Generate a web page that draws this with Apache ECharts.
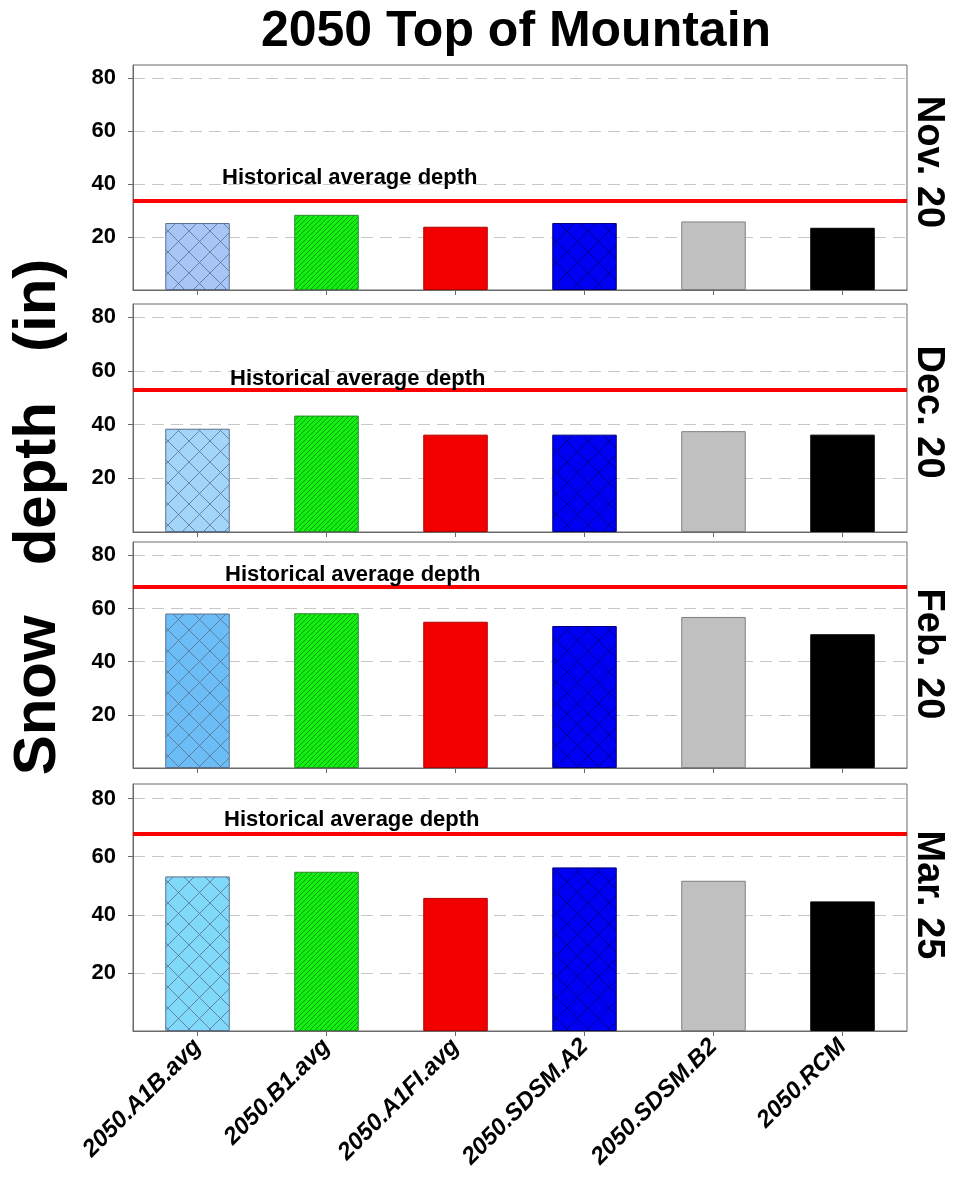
<!DOCTYPE html>
<html lang="en">
<head>
<meta charset="UTF-8">
<title>2050 Top of Mountain</title>
<style>
  html, body { margin: 0; padding: 0; background: #fff; }
  #main { width: 954px; height: 1184px; }
</style>
</head>
<body>
<div id="main"></div>
<script src="https://cdn.jsdelivr.net/npm/echarts@6/dist/echarts.min.js"></script>
<script>
// data (snow depth, inches)
const categories = ['2050.A1B.avg', '2050.B1.avg', '2050.A1FI.avg', '2050.SDSM.A2', '2050.SDSM.B2', '2050.RCM'];
const nov20 = [25.3, 28.4, 23.9, 25.3, 25.9, 23.5];
const dec20 = [38.5, 43.4, 36.3, 36.3, 37.6, 36.3];
const feb20 = [58.1, 58.2, 55.0, 53.4, 56.8, 50.3];
const mar25 = [53.2, 54.8, 45.8, 56.3, 51.7, 44.6];
const historical = [33.7, 53.0, 68.2, 68.0];
const panelNames = ['Nov. 20', 'Dec. 20', 'Feb. 20', 'Mar. 25'];
const yTicks = [20, 40, 60, 80];

const panels = [nov20, dec20, feb20, mar25];

// layout / style
const gridTops = [65, 304, 542, 784];
const gridHeights = [225, 228, 226, 247];
const nameCenters = [162, 412, 654, 895];
const a1bColors = ['#a9c5f5', '#a3d5f9', '#6cbdf6', '#80d9f8'];
const labelDist = [[89, 12], [97, 0], [92, 1], [91, 2]];
const font = 'Liberation Sans, Arial, Helvetica, sans-serif';

function crossHatch(bg, line) {
    const s = 21;
    const c = document.createElement('canvas');
    c.width = s; c.height = s;
    const ctx = c.getContext('2d');
    ctx.fillStyle = bg;
    ctx.fillRect(0, 0, s, s);
    ctx.strokeStyle = line;
    ctx.lineWidth = 0.8;
    ctx.beginPath();
    ctx.moveTo(0, 0); ctx.lineTo(s, s);
    ctx.moveTo(0, s); ctx.lineTo(s, 0);
    ctx.stroke();
    return { image: c, repeat: 'repeat' };
}

function diagHatch(bg, line) {
    const s = 5;
    const c = document.createElement('canvas');
    c.width = s; c.height = s;
    const ctx = c.getContext('2d');
    ctx.fillStyle = bg;
    ctx.fillRect(0, 0, s, s);
    ctx.strokeStyle = line;
    ctx.lineWidth = 1;
    ctx.beginPath();
    ctx.moveTo(-1, s + 1); ctx.lineTo(s + 1, -1);
    ctx.moveTo(-1, 1); ctx.lineTo(1, -1);
    ctx.moveTo(s - 1, s + 1); ctx.lineTo(s + 1, s - 1);
    ctx.stroke();
    return { image: c, repeat: 'repeat' };
}

function barStyles(p) {
    return [
        { color: crossHatch(a1bColors[p], '#56708f'), borderColor: '#5a7090', borderWidth: 1 },
        { color: diagHatch('#12f012', '#0b9a0b'), borderColor: '#2a8a2a', borderWidth: 1 },
        { color: '#f20000', borderColor: '#b00000', borderWidth: 1 },
        { color: crossHatch('#0000f2', '#00007a'), borderColor: '#000080', borderWidth: 1 },
        { color: '#c0c0c0', borderColor: '#808080', borderWidth: 1 },
        { color: '#000000', borderColor: '#000000', borderWidth: 1 }
    ];
}

const grid = [], xAxis = [], yAxis = [], series = [], graphic = [];

panels.forEach(function (vals, p) {
    grid.push({
        left: 133, right: 47, top: gridTops[p], height: gridHeights[p],
        show: true, borderColor: '#6a6a6a', borderWidth: 1
    });
    xAxis.push({
        type: 'category', gridIndex: p, data: categories,
        axisLine: { lineStyle: { color: '#6a6a6a', width: 1 } },
        axisTick: { show: true, alignWithLabel: true, length: 5, lineStyle: { color: '#6a6a6a' } },
        axisLabel: {
            show: p === 3, interval: 0, rotate: 45, margin: 12,
            fontFamily: font, fontSize: 24, fontWeight: 'bold', fontStyle: 'italic', color: '#000'
        },
        splitLine: { show: false }
    });
    yAxis.push({
        type: 'value', gridIndex: p, min: 0, max: 85, interval: 20,
        axisLine: { show: true, lineStyle: { color: '#6a6a6a' } },
        axisTick: { show: true, length: 5, customValues: yTicks, lineStyle: { color: '#6a6a6a' } },
        axisLabel: {
            margin: 17, fontFamily: font, fontSize: 22, fontWeight: 'bold', color: '#000',
            formatter: function (v) { return yTicks.indexOf(v) >= 0 ? String(v) : ''; }
        },
        splitLine: { show: true, lineStyle: { color: '#c8c8c8', type: [12, 7], width: 1 } }
    });
    const styles = barStyles(p);
    series.push({
        type: 'bar', xAxisIndex: p, yAxisIndex: p, barWidth: '50%',
        data: vals.map(function (v, i) { return { value: v, itemStyle: styles[i] }; }),
        markLine: {
            silent: true, symbol: 'none', animation: false,
            lineStyle: { color: '#ff0000', width: 4, type: 'solid' },
            label: {
                show: true, position: 'insideStartTop', distance: labelDist[p],
                formatter: 'Historical average depth',
                fontFamily: font, fontSize: 22, fontWeight: 'bold', color: '#000'
            },
            data: [{ yAxis: historical[p] }]
        }
    });
    graphic.push({
        type: 'text', x: 928, y: nameCenters[p], rotation: -Math.PI / 2,
        style: {
            text: panelNames[p], fill: '#000', textAlign: 'center', textVerticalAlign: 'middle',
            font: 'bold 38px ' + font
        }
    });
});

graphic.push({
    type: 'text', x: 38, y: 517, rotation: Math.PI / 2,
    style: {
        text: 'Snow   depth   (in)', fill: '#000', textAlign: 'center', textVerticalAlign: 'middle',
        font: 'bold 60px ' + font
    }
});

const chart = echarts.init(document.getElementById('main'), null, { renderer: 'canvas' });
chart.setOption({
    animation: false,
    backgroundColor: '#ffffff',
    title: {
        text: '2050 Top of Mountain', left: 511, top: 2, textAlign: 'center',
        textStyle: { fontFamily: font, fontSize: 50, fontWeight: 'bold', color: '#000' }
    },
    grid: grid,
    xAxis: xAxis,
    yAxis: yAxis,
    series: series,
    graphic: graphic
});
</script>
</body>
</html>
